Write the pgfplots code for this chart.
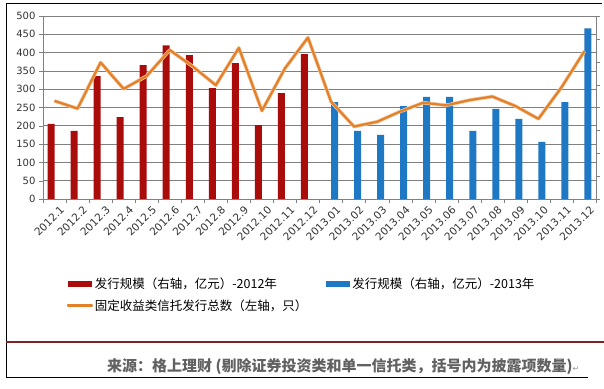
\documentclass[border=0pt]{standalone}
\usepackage{pgfplots}
\pgfplotsset{compat=1.18}
\usepackage{fontspec}
\setmainfont{DejaVu Sans}
\newfontfamily\cjk{Noto Sans CJK SC}
\newfontfamily\dejavu{DejaVu Sans}
\definecolor{red12}{RGB}{170,12,12}
\definecolor{blue13}{RGB}{30,120,195}
\definecolor{orng}{RGB}{228,128,40}
\definecolor{gridc}{RGB}{128,128,128}
\definecolor{darkline}{RGB}{125,35,35}
\begin{document}
\begin{tikzpicture}[x=1pt,y=1pt]
\useasboundingbox (0,0) rectangle (604,388);
\draw[black, line width=1pt] (602,384) -- (6,384) -- (6,11) -- (588,11);
\draw[darkline, line width=1.6pt] (6,46) -- (604,46);
\begin{axis}[
  at={(43pt,189pt)}, anchor=south west,
  scale only axis, width=553pt, height=183pt,
  xmin=-0.5, xmax=23.5, ymin=0, ymax=500,
  axis x line*=bottom, axis y line*=left,
  axis line style={-, gridc},
  ytick={0,50,...,500},
  ymajorgrids, grid style={gridc, line width=0.7pt},
  xtick={0,...,23},
  xticklabels={2012.1,2012.2,2012.3,2012.4,2012.5,2012.6,2012.7,2012.8,2012.9,2012.10,2012.11,2012.12,2013.01,2013.02,2013.03,2013.04,2013.05,2013.06,2013.07,2013.08,2013.09,2013.10,2013.11,2013.12},
  minor xtick={-0.5,0.5,...,23.5},
  major x tick style={draw=none},
  minor x tick style={gridc},
  y tick style={gridc},
  tick align=outside, major tick length=4pt, minor tick length=4pt,
  xticklabel style={rotate=45, anchor=east, xshift=3pt, yshift=-9pt, inner sep=1pt, font=\fontsize{10.5}{11}\selectfont, text=black!80},
  yticklabel style={font=\fontsize{10}{11}\selectfont, text=black!80},
  /pgf/number format/assume math mode=true,
  legend columns=2,
  legend cell align=left,
  legend style={at={(0.037,-0.41)}, anchor=north west, draw=none, fill=none,
    font=\cjk\fontsize{12.5}{14}\selectfont,
    /tikz/column 2/.style={column sep=17pt}, row sep=5pt},
]
\addplot[ybar, bar width=7pt, bar shift=-3.5pt, fill=red12, draw=none,
  legend image code/.code={\fill[red12] (0pt,-3pt) rectangle (24pt,3pt);}]
  coordinates {(0,205) (1,186) (2,336) (3,224) (4,366) (5,420) (6,393) (7,303) (8,371) (9,202) (10,289) (11,396)};
\addlegendentry{发行规模（右轴，亿元）-2012年}
\addplot[ybar, bar width=7pt, bar shift=3.5pt, fill=blue13, draw=none,
  legend image code/.code={\fill[blue13] (0pt,-3pt) rectangle (24pt,3pt);}]
  coordinates {(12,265) (13,186) (14,175) (15,254) (16,279) (17,279) (18,186) (19,246) (20,219) (21,156) (22,265) (23,466)};
\addlegendentry{发行规模（右轴，亿元）-2013年}
\addplot[orng!45, line width=3.6pt, line join=round, forget plot]
  coordinates {(0,268) (1,247) (2,373) (3,301) (4,336) (5,407) (6,362) (7,311) (8,413) (9,241) (10,357) (11,441)
  (12,266) (13,198) (14,211) (15,239) (16,263) (17,256) (18,270) (19,280) (20,254) (21,219) (22,305) (23,404)};
\addplot[orng, line width=2.2pt, line join=round,
  legend image code/.code={\fill[orng] (0pt,-0.8pt) rectangle (24pt,0.8pt);}]
  coordinates {(0,268) (1,247) (2,373) (3,301) (4,336) (5,407) (6,362) (7,311) (8,413) (9,241) (10,357) (11,441)
  (12,266) (13,198) (14,211) (15,239) (16,263) (17,256) (18,270) (19,280) (20,254) (21,219) (22,305) (23,404)};
\addlegendentry{固定收益类信托发行总数（左轴，只）}
\end{axis}
\begin{axis}[
  at={(43pt,189pt)}, anchor=south west,
  scale only axis, width=553pt, height=183pt,
  xmin=-0.5, xmax=23.5, ymin=0, ymax=8,
  axis x line=none, axis y line*=right,
  axis line style={-, gridc},
  ytick={0,...,8}, yticklabels={},
  tick align=outside, major tick length=4pt, y tick style={gridc},
]
\addplot[draw=none] coordinates {(0,0) (1,1)};
\end{axis}
\node[anchor=west, text=black!62, inner sep=0pt] at (107,21)
  {\cjk\bfseries\fontsize{15}{16}\selectfont 来源：格上理财 (剔除证券投资类和单一信托类，括号内为披露项数量)\dejavu\mdseries\fontsize{8}{8}\selectfont\color{black!40}↵};
\end{tikzpicture}
\end{document}
